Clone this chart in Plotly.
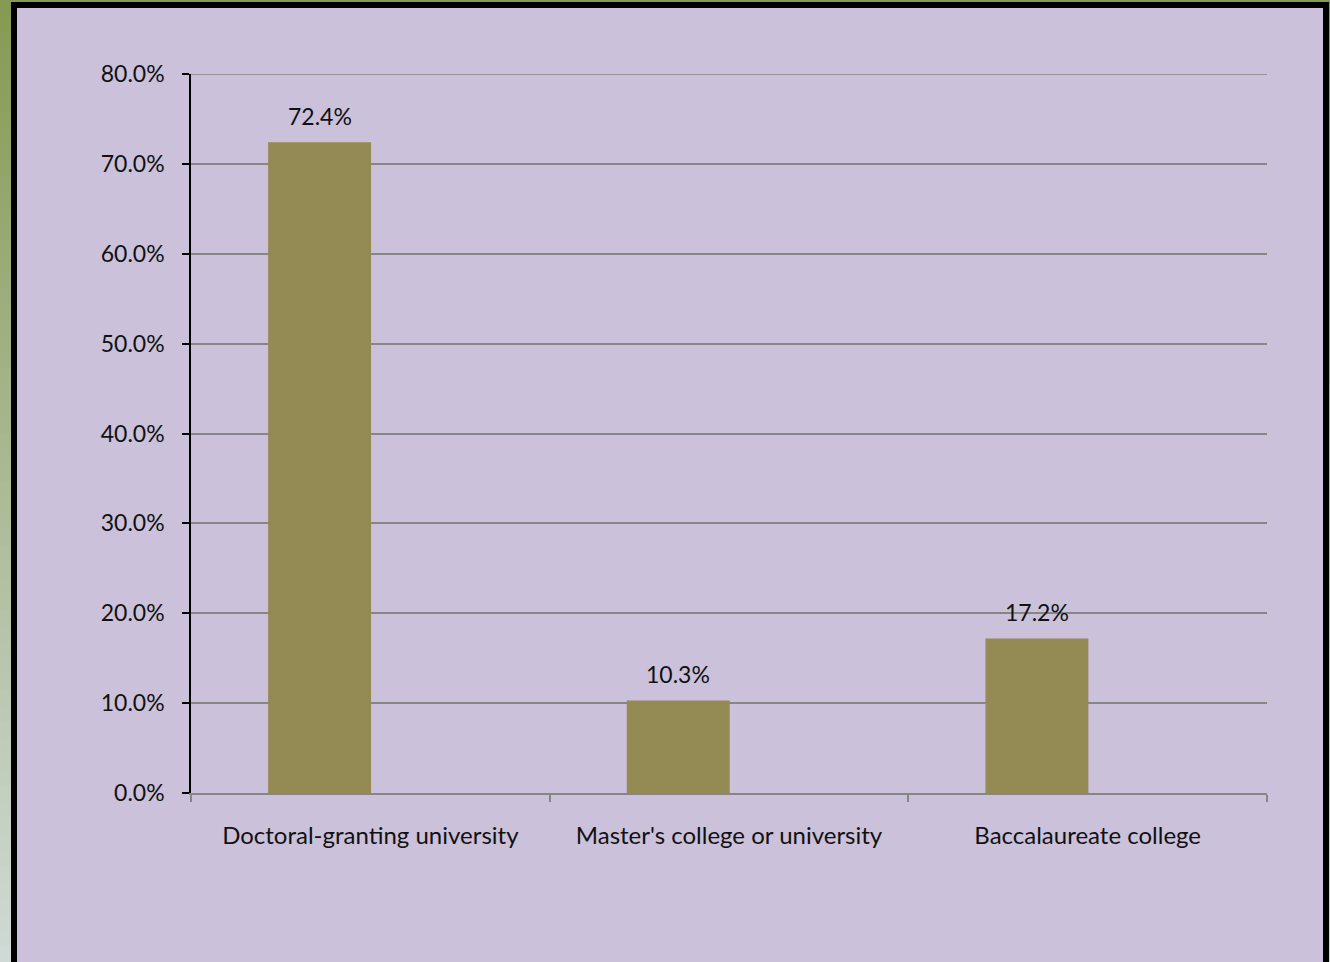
import plotly.graph_objects as go

categories = ["Doctoral-granting university", "Master's college or university", "Baccalaureate college"]
values = [0.724, 0.103, 0.172]
value_labels = ["72.4%", "10.3%", "17.2%"]
y_tickvals = [0.0, 0.1, 0.2, 0.3, 0.4, 0.5, 0.6, 0.7, 0.8]
y_ticktext = ["0.0%", "10.0%", "20.0%", "30.0%", "40.0%", "50.0%", "60.0%", "70.0%", "80.0%"]

W, H = 1330, 962
FONT = "Lato"
TXT = "#111111"
GRID = "#868686"

# plot area pixel geometry
x0p, x1p = 191, 1267
y_top, y_bot = 74, 793

BAR_W = 0.287
BAR_OFF = -0.285
cat_px = (x1p - x0p) / len(categories)

fig = go.Figure()
fig.add_trace(go.Bar(
    x=categories, y=values,
    width=BAR_W, offset=BAR_OFF,
    marker=dict(color="#948A54", line=dict(width=0)),
    hoverinfo="skip",
))

# data labels
for c, v, t in zip(categories, values, value_labels):
    fig.add_annotation(
        x=c, y=v, text=t, showarrow=False,
        xshift=(BAR_OFF + BAR_W / 2) * cat_px, yshift=26,
        font=dict(family=FONT, size=23, color=TXT),
    )

# background decorations: gradient green, black frame, lavender panel
shapes = []
top_rgb = (132, 154, 82)
bot_rgb = (208, 218, 214)
N = 60
for i in range(N):
    f = (i + 0.5) / N
    col = tuple(int(round(top_rgb[k] + (bot_rgb[k] - top_rgb[k]) * f)) for k in range(3))
    shapes.append(dict(type="rect", xref="paper", yref="paper", layer="below",
                       x0=0, x1=1, y0=1 - (i + 1) / N - 0.001, y1=1 - i / N,
                       fillcolor="rgb(%d,%d,%d)" % col, line=dict(width=0)))
shapes.append(dict(type="rect", xref="paper", yref="paper", layer="below",
                   x0=11 / W, x1=1329 / W, y0=-0.01, y1=1 - 2 / H,
                   fillcolor="#000000", line=dict(width=0)))
shapes.append(dict(type="rect", xref="paper", yref="paper", layer="below",
                   x0=17 / W, x1=1323 / W, y0=-0.01, y1=1 - 8 / H,
                   fillcolor="#CBC1DB", line=dict(width=0)))
# top gridline (plotly drops the grid line at the range edge)
shapes.append(dict(type="line", xref="x domain", yref="y", layer="below",
                   x0=0, x1=1, y0=max(y_tickvals), y1=max(y_tickvals),
                   line=dict(color=GRID, width=1.5)))

fig.update_layout(
    template="none",
    width=W, height=H,
    margin=dict(l=0, r=0, t=0, b=0, pad=0),
    paper_bgcolor="#8aa05a",
    plot_bgcolor="rgba(0,0,0,0)",
    showlegend=False,
    shapes=shapes,
    font=dict(family=FONT, size=23, color=TXT),
    xaxis=dict(
        domain=[x0p / W, x1p / W],
        automargin=False,
        type="category",
        range=[-0.5, len(categories) - 0.5],
        showgrid=False, zeroline=False,
        showline=True, linecolor=GRID, linewidth=1.5,
        ticks="outside", tickson="boundaries", ticklen=7, tickwidth=1.5, tickcolor=GRID,
        tickfont=dict(family=FONT, size=24, color=TXT),
        ticklabelstandoff=20,
        fixedrange=True,
    ),
    yaxis=dict(
        domain=[(H - y_bot) / H, (H - y_top) / H],
        automargin=False,
        range=[0, 0.8],
        tickvals=y_tickvals, ticktext=y_ticktext,
        showgrid=True, gridcolor=GRID, gridwidth=1.5,
        zeroline=False,
        showline=True, linecolor="#000000", linewidth=1.5,
        ticks="outside", ticklen=7, tickwidth=1.5, tickcolor="#000000",
        tickfont=dict(family=FONT, size=23, color=TXT),
        ticklabelstandoff=13,
        fixedrange=True,
    ),
)

fig.write_html(
    "out.html",
    config={"displayModeBar": False},
    post_script="document.body.style.margin='0';document.body.style.overflow='hidden';",
)
